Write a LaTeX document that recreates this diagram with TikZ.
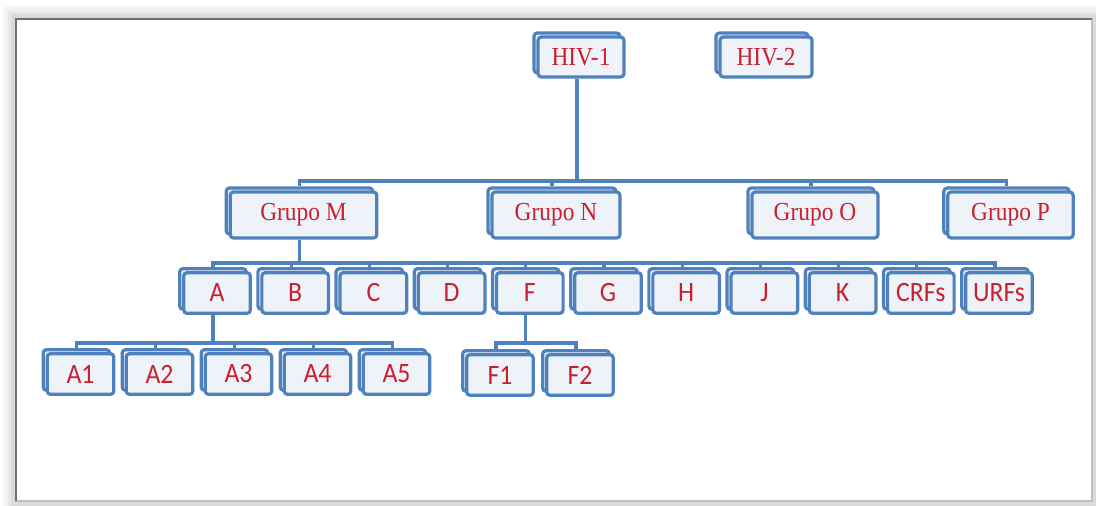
\documentclass[tikz,border=0pt]{standalone}
\usepackage{fontspec}
\setmainfont[FakeStretch=0.9]{Liberation Serif}
\newfontfamily\subfont[FakeStretch=0.92]{Carlito}
\usetikzlibrary{shadows, calc}
\definecolor{cblue}{HTML}{4F81BD}
\definecolor{cfill}{HTML}{EEF2F9}
\definecolor{cred}{HTML}{C8202C}
\definecolor{cframe}{HTML}{6F6F6F}
\tikzset{
  card/.style={draw=cblue, fill=cfill, line width=2.4pt, rounded corners=2.5pt, inner sep=0pt, text=cred,
    copy shadow={shadow xshift=-3pt, shadow yshift=3pt, opacity=1, draw=cblue, fill=cfill, line width=2.4pt}},
  topcard/.style={card, font=\fontsize{19.5}{22}\selectfont, minimum height=30pt},
  grpcard/.style={card, font=\fontsize{19.5}{22}\selectfont, minimum height=34.5pt},
  subcard/.style={card, font=\subfont\fontsize{21}{22}\selectfont, minimum width=50pt, minimum height=30.5pt},
  conn/.style={draw=cblue, line width=2.5pt},
}
\begin{document}
\begin{tikzpicture}[x=0.75pt, y=-0.75pt]
  \useasboundingbox (0,0) rectangle (1096,506);
  % frame with soft shadow
  \foreach \d/\c in {12/5, 9/10, 6/16, 3/26}
    \draw[cframe!\c, line width=2.5pt] (16-\d,19-\d) rectangle (1092+\d,501+\d);
  \draw[cframe!45, line width=0.9pt] (16,19) rectangle (1092,501);
  \draw[cframe, line width=1pt] (16,501) -- (16,19) -- (1092,19);
  % bar levels
  \coordinate (barG) at (0,181);
  \coordinate (barS) at (0,263);
  \coordinate (barA) at (0,343);
  % types
  \node[topcard, minimum width=64.5pt] (hiv1) at (581,57) {HIV-1};
  \node[topcard, minimum width=69pt] (hiv2) at (766,57) {HIV-2};
  % groups
  \foreach \g/\x/\w in {M/303.5/110, N/556/96, O/815/94.5, P/1010.5/94}
    \node[grpcard, minimum width=\w pt] (grp\g) at (\x,215) {Grupo \g};
  % subtypes
  \foreach \s [count=\i from 0] in {A,B,C,D,F,G,H,J,K,CRFs,URFs}
    \node[subcard] (st-\s) at (217+78.2*\i,293) {\s};
  % sub-subtypes
  \foreach \s [count=\i from 0] in {1,...,5}
    \node[subcard] (stA\s) at (80.5+79*\i,374) {A\s};
  \foreach \s/\x in {1/500, 2/580}
    \node[subcard] (stF\s) at (\x,375) {F\s};
  % HIV-1 -> groups
  \draw[conn] ([xshift=-3pt]hiv1.south) -- ([xshift=-3pt]hiv1.south |- barG);
  \draw[conn] ([shift={(-3pt,3pt)}]grpM.north) |- ([xshift=-3pt]grpP.north |- barG) -- ([shift={(-3pt,3pt)}]grpP.north);
  \foreach \g in {N,O}
    \draw[conn] ([shift={(-3pt,3pt)}]grp\g.north) -- ([xshift=-3pt]grp\g.north |- barG);
  % Grupo M -> subtypes
  \draw[conn] ([xshift=-3pt]grpM.south) -- ([xshift=-3pt]grpM.south |- barS);
  \draw[conn] ([shift={(-3pt,3pt)}]st-A.north) |- ([xshift=-3pt]st-URFs.north |- barS) -- ([shift={(-3pt,3pt)}]st-URFs.north);
  \foreach \s in {B,C,D,F,G,H,J,K,CRFs}
    \draw[conn] ([shift={(-3pt,3pt)}]st-\s.north) -- ([xshift=-3pt]st-\s.north |- barS);
  % A -> A1..A5
  \draw[conn] ([xshift=-3pt]st-A.south) -- ([xshift=-3pt]st-A.south |- barA);
  \draw[conn] ([shift={(-3pt,3pt)}]stA1.north) |- ([xshift=-3pt]stA5.north |- barA) -- ([shift={(-3pt,3pt)}]stA5.north);
  \foreach \s in {2,3,4}
    \draw[conn] ([shift={(-3pt,3pt)}]stA\s.north) -- ([xshift=-3pt]stA\s.north |- barA);
  % F -> F1, F2
  \draw[conn] ([xshift=-3pt]st-F.south) -- ([xshift=-3pt]st-F.south |- barA);
  \draw[conn] ([shift={(-3pt,3pt)}]stF1.north) |- ([xshift=-3pt]stF2.north |- barA) -- ([shift={(-3pt,3pt)}]stF2.north);
\end{tikzpicture}
\end{document}
